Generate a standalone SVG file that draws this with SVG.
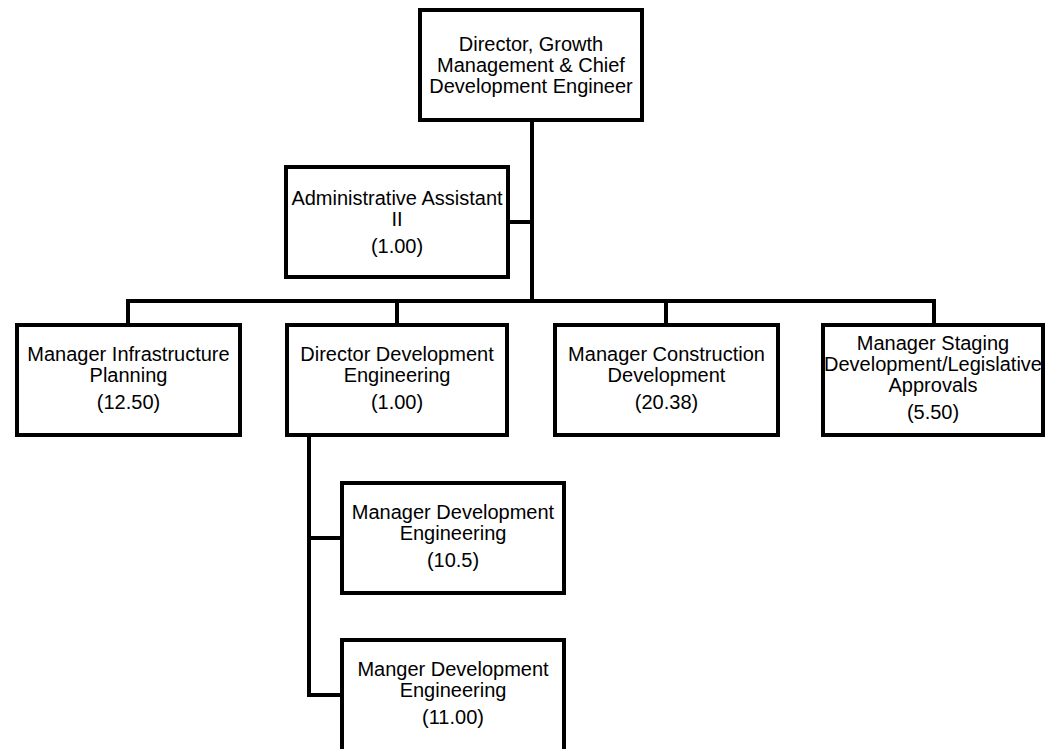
<svg xmlns="http://www.w3.org/2000/svg" width="1045" height="749" viewBox="0 0 1045 749">
<style>
.box{fill:#fff;stroke:#000;stroke-width:4}
.t{font-family:"Liberation Sans",Arial,sans-serif;font-size:20px;fill:#000;text-anchor:middle}
.c{fill:none;stroke:#000;stroke-width:4}
</style>
<rect width="1045" height="749" fill="#fff"/>
<g id="connectors">
<path class="c" d="M532,120 V301 M508,222 H532 M126,301 H936 M128,301 V325 M397,301 V325 M666,301 V325 M934,301 V325 M309,435 V695 M307,538 H342 M307,695 H342"/>
</g>
<g id="n-director">
<rect class="box" x="420" y="10" width="222" height="110"/>
<text class="t" x="531" y="51">Director, Growth</text>
<text class="t" x="531" y="72">Management &amp; Chief</text>
<text class="t" x="531" y="93">Development Engineer</text>
</g>
<g id="n-admin">
<rect class="box" x="286" y="167" width="222" height="110"/>
<text class="t" x="397" y="205">Administrative Assistant</text>
<text class="t" x="397" y="226">II</text>
<text class="t" x="397" y="253">(1.00)</text>
</g>
<g id="n-infra">
<rect class="box" x="17" y="325" width="223" height="110"/>
<text class="t" x="128.5" y="361">Manager Infrastructure</text>
<text class="t" x="128.5" y="382">Planning</text>
<text class="t" x="128.5" y="409">(12.50)</text>
</g>
<g id="n-devdir">
<rect class="box" x="287" y="325" width="220" height="110"/>
<text class="t" x="397" y="361">Director Development</text>
<text class="t" x="397" y="382">Engineering</text>
<text class="t" x="397" y="409">(1.00)</text>
</g>
<g id="n-construction">
<rect class="box" x="555" y="325" width="223" height="110"/>
<text class="t" x="666.5" y="361">Manager Construction</text>
<text class="t" x="666.5" y="382">Development</text>
<text class="t" x="666.5" y="409">(20.38)</text>
</g>
<g id="n-staging">
<rect class="box" x="823" y="325" width="220" height="110"/>
<text class="t" x="933" y="350">Manager Staging</text>
<text class="t" x="933" y="371">Development/Legislative</text>
<text class="t" x="933" y="392">Approvals</text>
<text class="t" x="933" y="419">(5.50)</text>
</g>
<g id="n-mgrdev1">
<rect class="box" x="342" y="483" width="222" height="110"/>
<text class="t" x="453" y="519">Manager Development</text>
<text class="t" x="453" y="540">Engineering</text>
<text class="t" x="453" y="567">(10.5)</text>
</g>
<g id="n-mgrdev2">
<rect class="box" x="342" y="640" width="222" height="130"/>
<text class="t" x="453" y="676">Manger Development</text>
<text class="t" x="453" y="697">Engineering</text>
<text class="t" x="453" y="724">(11.00)</text>
</g>
</svg>
